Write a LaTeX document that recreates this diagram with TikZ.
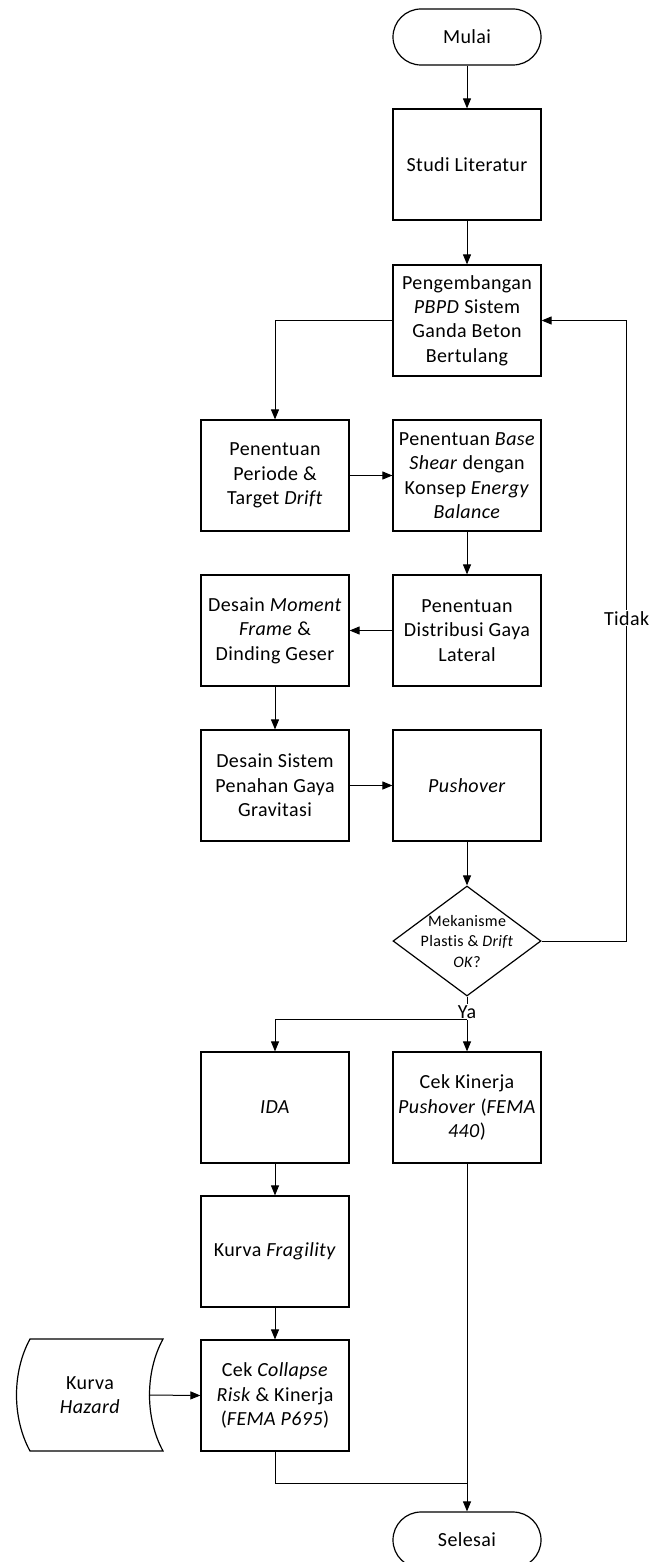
\documentclass[tikz,border=0pt]{standalone}
\usepackage{fontspec}
\setmainfont{Carlito}[Ligatures=NoCommon, LetterSpace=2]
\usetikzlibrary{arrows.meta,shapes.geometric}

\begin{document}
\begin{tikzpicture}[x=1pt, y=-1pt,
    txt/.style={font=\fontsize{20}{24.4}\selectfont, align=center},
    box/.style={txt, draw, line width=1.2pt, minimum width=148pt, minimum height=111pt, inner sep=2pt},
    term/.style={box, rounded corners=28pt, minimum height=56pt},
    dec/.style={diamond, draw, line width=1.2pt, minimum width=148pt, minimum height=110pt, inner sep=0pt},
    line/.style={line width=1pt},
    arr/.style={line, -{Triangle[length=10pt,width=8pt]}}
]
            \useasboundingbox (0,0) rectangle (651,1562);

            \node[term] (mulai) at (467,37) {Mulai};
            \node[box] (studi) at (467,164.5) {Studi Literatur};
            \node[box] (pbpd) at (467,320.5) {Pengembangan\\\textit{PBPD} Sistem\\Ganda Beton\\Bertulang};
            \node[box] (periode) at (275,475.5) {Penentuan\\Periode \&\\Target \textit{Drift}};
            \node[box] (baseshear) at (467,475.5) {Penentuan \textit{Base}\\\textit{Shear} dengan\\Konsep \textit{Energy}\\\textit{Balance}};
            \node[box] (distribusi) at (467,630.5) {Penentuan\\Distribusi Gaya\\Lateral};
            \node[box] (momentframe) at (275,630.5) {Desain \textit{Moment}\\\textit{Frame} \&\\Dinding Geser};
            \node[box] (gravitasi) at (275,785.5) {Desain Sistem\\Penahan Gaya\\Gravitasi};
            \node[box] (pushover) at (467,785.5) {\textit{Pushover}};
            \node[dec, label={[font=\fontsize{16}{20.5}\selectfont, align=center]center:{Mekanisme\\Plastis \& \textit{Drift}\\\textit{OK}?}}] (cek) at (467,941) {};
            \node[txt, inner sep=1pt] (ya) at (467,1012) {Ya};
            \node[box] (ida) at (275,1107.5) {\textit{IDA}};
            \node[box] (kinerja) at (467,1107.5) {Cek Kinerja\\\textit{Pushover} (\textit{FEMA}\\\textit{440})};
            \node[box] (fragility) at (275,1251.5) {Kurva \textit{Fragility}};
            \node[box] (collapse) at (275,1395.5) {Cek \textit{Collapse}\\\textit{Risk} \& Kinerja\\(\textit{FEMA P695})};
            \node[txt] (hazard) at (90,1395) {Kurva\\\textit{Hazard}};
            \node[term] (selesai) at (467,1540) {Selesai};

            \draw[line width=1.2pt] (30,1339) -- (163,1339)
                .. controls (145,1372) and (145,1418) .. (163,1451)
                -- (30,1451)
                .. controls (12,1418) and (12,1372) .. (30,1339) -- cycle;
            \coordinate (hazardout) at (149,1395);
            \coordinate (merge) at (467,1483);

            \draw[arr] (mulai) -- (studi);
            \draw[arr] (studi) -- (pbpd);
            \draw[arr] (pbpd.west) -| (periode.north);
            \draw[arr] (periode) -- (baseshear);
            \draw[arr] (baseshear) -- (distribusi);
            \draw[arr] (distribusi) -- (momentframe);
            \draw[arr] (momentframe) -- (gravitasi);
            \draw[arr] (gravitasi) -- (pushover);
            \draw[arr] (pushover) -- (cek.north);
            \draw[arr] (cek.east) -- ++(85,0) |- node[txt, pos=0.26, fill=white, inner sep=1pt] (tidak) {Tidak} (pbpd.east);
            \draw[line] (cek.south) -- (ya.north);
            \draw[arr] (ya.south) -- (kinerja.north);
            \draw[arr] (ya.south) -| (ida.north);
            \draw[arr] (ida) -- (fragility);
            \draw[arr] (fragility) -- (collapse);
            \draw[arr] (hazardout) -- (collapse.west);
            \draw[line] (collapse.south) |- (merge);
            \draw[arr] (kinerja.south) -- (selesai.north);
\end{tikzpicture}
\end{document}
